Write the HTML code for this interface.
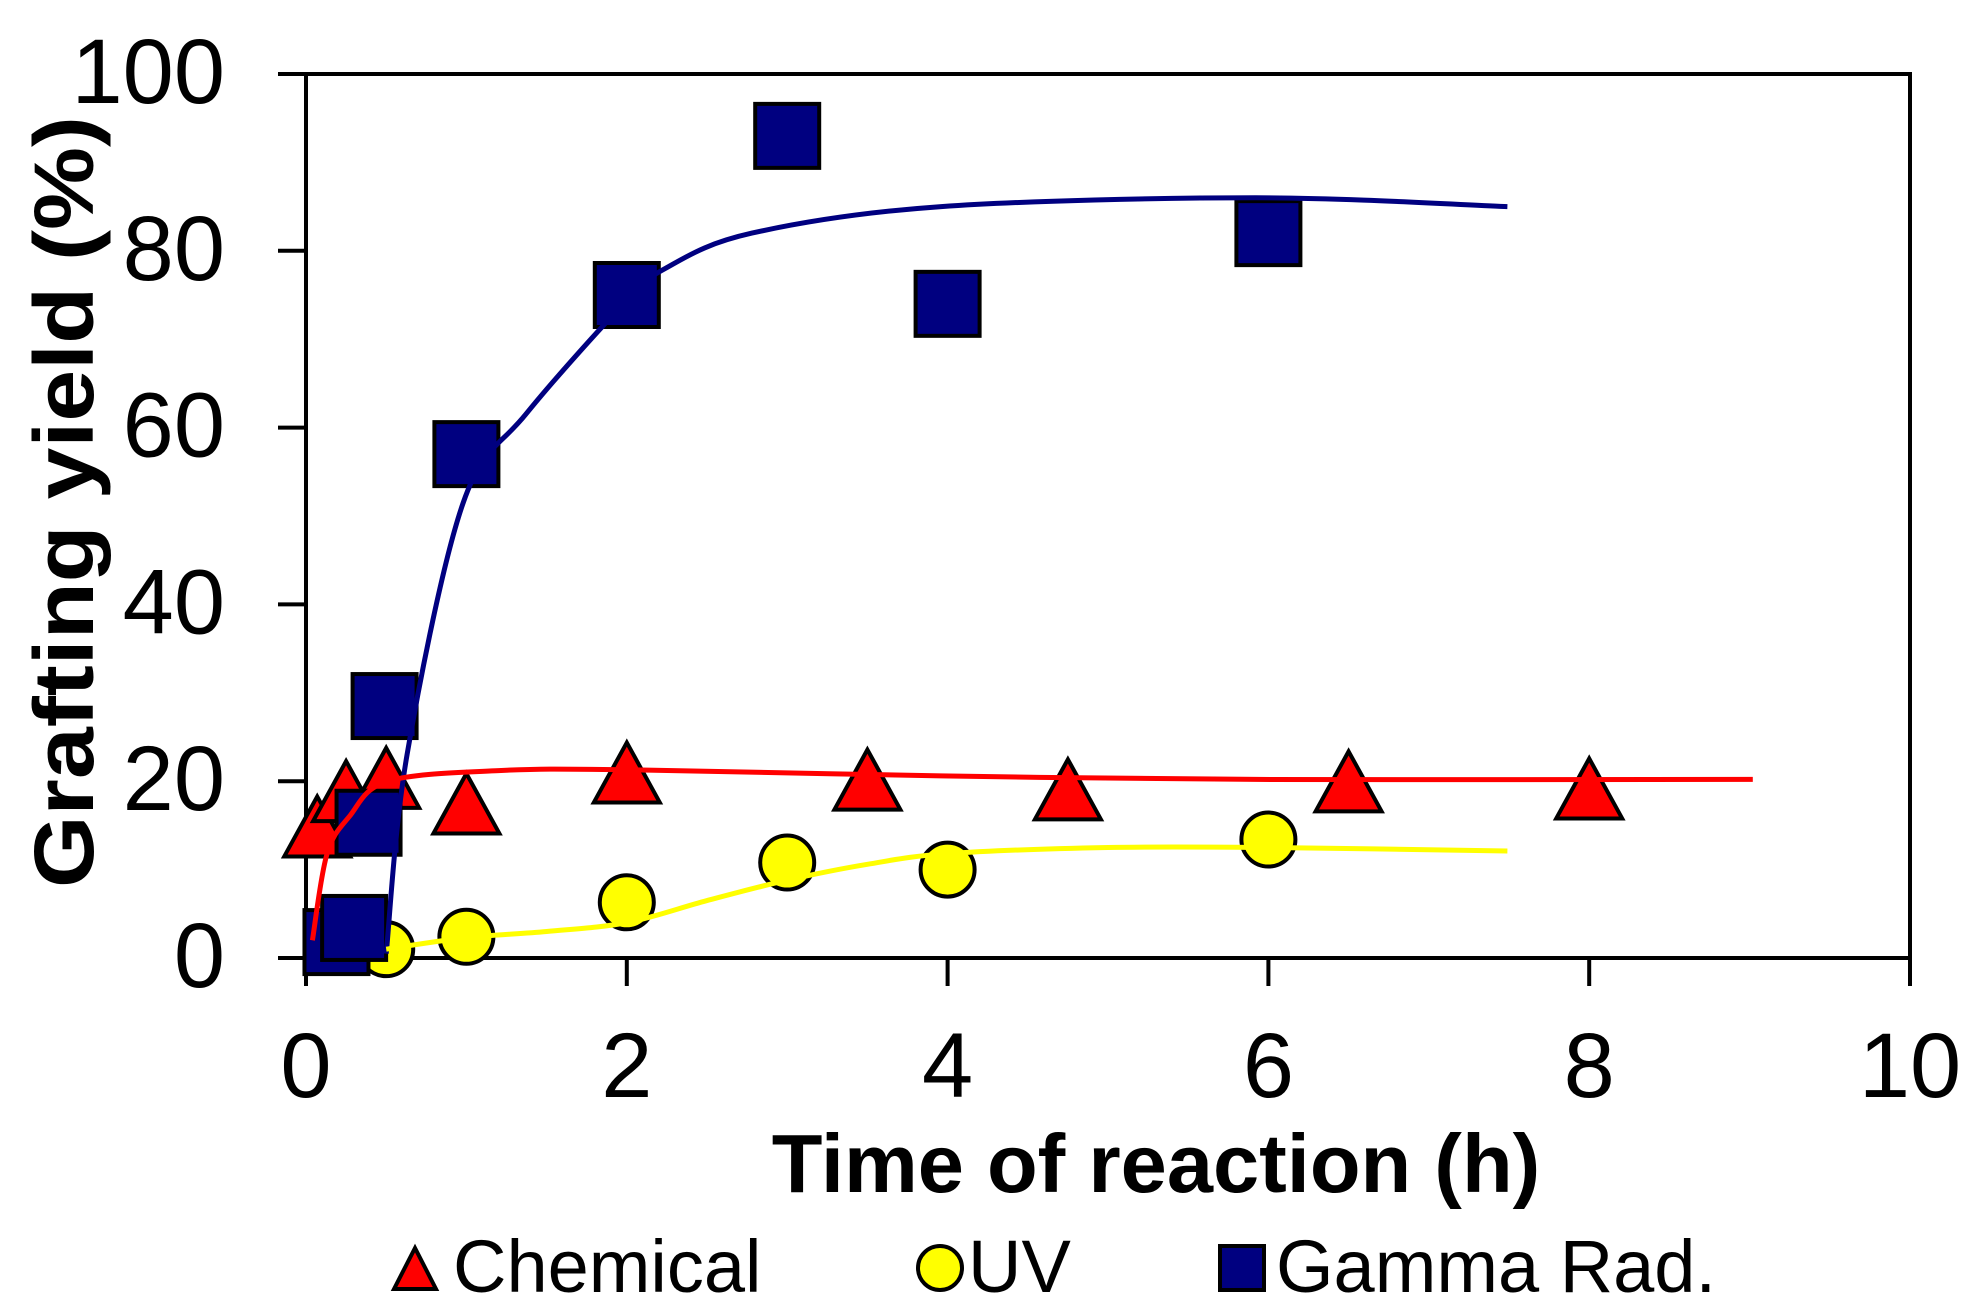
<!DOCTYPE html>
<html><head><meta charset="utf-8"><style>
html,body{margin:0;padding:0;background:#fff;}
svg{display:block;font-family:"Liberation Sans",Arial,sans-serif;}
</style></head><body>
<svg id="chart" width="1970" height="1314" viewBox="0 0 1970 1314" xmlns="http://www.w3.org/2000/svg">
<g id="axes"></g>
<g id="curves"></g>
<g id="marks"></g>
<text x="1156" y="1192" font-size="83" font-weight="bold" text-anchor="middle">Time of reaction (h)</text>
<text transform="translate(93,502) rotate(-90)" font-size="84" font-weight="bold" text-anchor="middle" textLength="772" lengthAdjust="spacingAndGlyphs">Grafting yield (%)</text>
<g>
  <polygon points="415,1248 394,1289 436,1289" fill="#ff0000" stroke="#000" stroke-width="4"/>
  <text x="453" y="1292" font-size="74">Chemical</text>
  <circle cx="940" cy="1268" r="22" fill="#ffff00" stroke="#000" stroke-width="4"/>
  <text x="968" y="1292" font-size="74">UV</text>
  <rect x="1220" y="1246" width="44" height="44" fill="#000080" stroke="#000" stroke-width="4"/>
  <text x="1276" y="1292" font-size="74">Gamma Rad.</text>
</g>
</svg>
<script>
const xTicks = [0, 2, 4, 6, 8, 10];
const yTicks = [0, 20, 40, 60, 80, 100];
const chemT = [0.07, 0.25, 0.5, 1, 2, 3.5, 4.75, 6.5, 8];
const chemY = [14.2, 18.2, 19.7, 16.8, 20.3, 19.5, 18.4, 19.3, 18.5];
const uvT = [0.5, 1, 2, 3, 4, 6];
const uvY = [1.0, 2.4, 6.3, 10.8, 10.0, 13.4];
const gamT = [0.19, 0.3, 0.39, 0.49, 1, 2, 3, 4, 6];
const gamY = [1.8, 3.4, 15.3, 28.5, 57, 75, 93, 74, 82];
const gamFitT = [0.5, 0.63, 0.98, 1.37, 1.98, 2.24, 2.78, 3.96, 5.92, 7.49];
const gamFitY = [0.5, 23, 51.5, 61.5, 74, 78, 82, 85, 86, 85];
const chemFitT = [0.04, 0.13, 0.27, 0.51, 1.2, 2, 3.96, 5.92, 9.02];
const chemFitY = [2, 11.7, 16, 20, 21.2, 21.3, 20.6, 20.2, 20.2];
const uvFitT = [0.5, 1, 1.5, 2, 2.5, 3, 3.5, 4, 5, 6, 7.49];
const uvFitY = [1, 2.3, 3, 4, 6.5, 8.8, 10.6, 11.8, 12.5, 12.5, 12.1];

const NS = "http://www.w3.org/2000/svg";
const X0 = 306, X1 = 1910, Y0 = 958, Y1 = 74;
function sx(v){ return X0 + (v - 0) / 10 * (X1 - X0); }
function sy(v){ return Y0 - (v - 0) / 100 * (Y0 - Y1); }
function mk(tag, attrs, parent){
  const e = document.createElementNS(NS, tag);
  for (const k in attrs) e.setAttribute(k, attrs[k]);
  parent.appendChild(e); return e;
}
const axes = document.getElementById('axes');
const frame = mk('rect', {x:X0, y:Y1, width:X1-X0, height:Y0-Y1, fill:'none', stroke:'#000', 'stroke-width':4}, axes);


xTicks.forEach(t => {
  const l = mk('line', {x1:sx(t), x2:sx(t), y1:Y0, y2:Y0+28, stroke:'#000', 'stroke-width':4}, axes);
  
  
  const tx = mk('text', {x:sx(t), y:1097, 'font-size':92, 'text-anchor':'middle'}, axes);
  tx.textContent = t;
  
  
});
yTicks.forEach(t => {
  const l = mk('line', {x1:X0-28, x2:X0, y1:sy(t), y2:sy(t), stroke:'#000', 'stroke-width':4}, axes);
  
  
  const tx = mk('text', {x:225, y:sy(t)+29, 'font-size':92, 'text-anchor':'end'}, axes);
  tx.textContent = t;
  
  
});
function smoothPath(ts, ys){
  const p = ts.map((t,i)=>[sx(t), sy(ys[i])]);
  let d = 'M' + p[0][0] + ',' + p[0][1];
  for (let i=0;i<p.length-1;i++){
    const p0 = p[i-1]||p[i], p1=p[i], p2=p[i+1], p3=p[i+2]||p[i+1];
    const c1 = [p1[0]+(p2[0]-p0[0])/6, p1[1]+(p2[1]-p0[1])/6];
    const c2 = [p2[0]-(p3[0]-p1[0])/6, p2[1]-(p3[1]-p1[1])/6];
    d += ' C'+c1+' '+c2+' '+p2;
  }
  return d;
}
const curves = document.getElementById('curves');
const marks = document.getElementById('marks');
const cg = mk('path', {d:smoothPath(gamFitT, gamFitY), fill:'none', stroke:'#000080', 'stroke-width':5}, curves);


const cc = mk('path', {d:smoothPath(chemFitT, chemFitY), fill:'none', stroke:'#ff0000', 'stroke-width':5}, curves);


const cu = mk('path', {d:smoothPath(uvFitT, uvFitY), fill:'none', stroke:'#ffff00', 'stroke-width':5}, curves);



chemT.forEach((t,i) => {
  const cx = sx(t), cy = sy(chemY[i]);
  const p = mk('polygon', {points:`${cx},${cy-36} ${cx-33},${cy+24} ${cx+33},${cy+24}`, fill:'#ff0000', stroke:'#000', 'stroke-width':4}, marks);
  
  
});
uvT.forEach((t,i) => {
  const c = mk('circle', {cx:sx(t), cy:sy(uvY[i]), r:27, fill:'#ffff00', stroke:'#000', 'stroke-width':4}, marks);
  
  
});
gamT.forEach((t,i) => {
  const r = mk('rect', {x:sx(t)-32, y:sy(gamY[i])-32, width:64, height:64, fill:'#000080', stroke:'#000', 'stroke-width':4}, marks);
  
  
});
curves.parentNode.appendChild(curves);
</script>
</body></html>
